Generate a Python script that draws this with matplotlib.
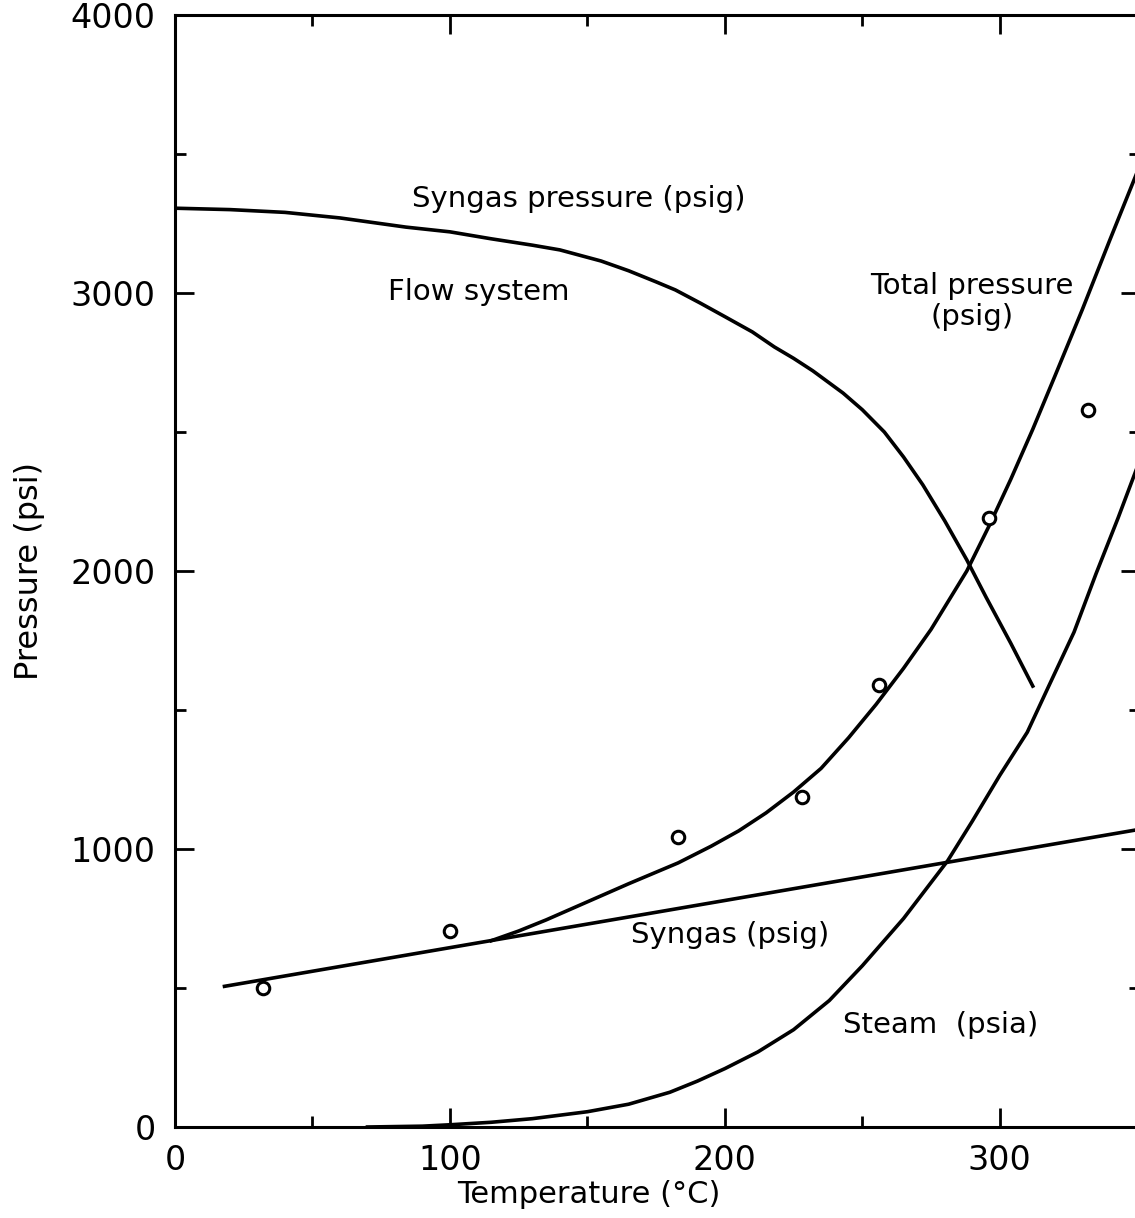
import matplotlib.pyplot as plt
from matplotlib.ticker import MultipleLocator

# (temperature in C, pressure in psi)
flow_t = [0, 20, 40, 60, 84, 100, 115, 130, 140, 155, 165, 175, 182, 191, 200, 210, 218,
          225, 232, 243, 250, 258, 265, 272, 280, 288, 295, 304, 312]
flow_p = [3305, 3300, 3290, 3270, 3237, 3220, 3195, 3172, 3155, 3115, 3080, 3040, 3011,
          2964, 2915, 2860, 2806, 2765, 2720, 2640, 2580, 2500, 2410, 2310, 2180, 2040,
          1906, 1740, 1586]

total_t = [115, 125, 135, 150, 165, 183, 195, 205, 215, 225, 235, 245, 255, 265, 275,
           288, 296, 304, 312, 320, 330, 340, 351]
total_p = [670, 705, 745, 810, 875, 950, 1010, 1065, 1130, 1205, 1290, 1400, 1520, 1650,
           1790, 2000, 2160, 2330, 2510, 2700, 2940, 3190, 3460]

syngas_t = [18, 351]
syngas_p = [506, 1071]

steam_t = [70, 90, 100, 115, 130, 150, 165, 180, 190, 200, 212, 225, 238, 250, 265, 281,
           290, 300, 310, 318, 327, 335, 343, 351]
steam_p = [0, 3, 8, 17, 30, 55, 82, 125, 165, 210, 270, 350, 455, 580, 750, 957, 1100,
           1265, 1420, 1590, 1780, 1990, 2190, 2400]

meas_t = [32, 100, 183, 228, 256, 296, 332]
meas_p = [499, 705, 1044, 1188, 1590, 2189, 2580]

plt.rcParams['font.family'] = ['DejaVu Sans']

fig = plt.figure(figsize=(11.35, 12.18), dpi=100)
ax = fig.add_axes([175 / 1135, 91 / 1218, 965 / 1135, 1112 / 1218])

lw = 2.6
for t, p in [(flow_t, flow_p), (total_t, total_p), (syngas_t, syngas_p), (steam_t, steam_p)]:
    ax.plot(t, p, color='black', lw=lw, solid_joinstyle='round')
ax.plot(meas_t, meas_p, 'o', ms=9, mfc='white', mec='black', mew=2.2)

ax.set_xlim(0, 351)
ax.set_ylim(0, 4000)

ax.xaxis.set_major_locator(MultipleLocator(100))
ax.xaxis.set_minor_locator(MultipleLocator(50))
ax.yaxis.set_major_locator(MultipleLocator(1000))
ax.yaxis.set_minor_locator(MultipleLocator(500))
ax.tick_params(which='both', direction='in', top=True, right=True, width=2)
ax.tick_params(which='major', length=14, labelsize=24)
ax.tick_params(axis='x', which='major', pad=12)
ax.tick_params(axis='y', which='major', pad=14)
ax.tick_params(which='minor', length=8)
for s in ax.spines.values():
    s.set_linewidth(2.2)

ax.set_xlabel('Temperature (°C)', fontsize=22)
ax.xaxis.set_label_coords(0.429, -0.048)
ax.set_ylabel('Pressure (psi)', fontsize=23)
ax.yaxis.set_label_coords(-0.135, 0.5)

fs = 21
ax.text(147, 3338, 'Syngas pressure (psig)', fontsize=fs, ha='center', va='center')
ax.text(110.5, 3003, 'Flow system', fontsize=fs, ha='center', va='center')
ax.text(290, 2970, 'Total pressure\n(psig)', fontsize=fs, ha='center', va='center',
        linespacing=1.15)
ax.text(202, 690, 'Syngas (psig)', fontsize=fs, ha='center', va='center')
ax.text(278.5, 367, 'Steam  (psia)', fontsize=fs, ha='center', va='center')

fig.savefig('out.png', dpi=100)
